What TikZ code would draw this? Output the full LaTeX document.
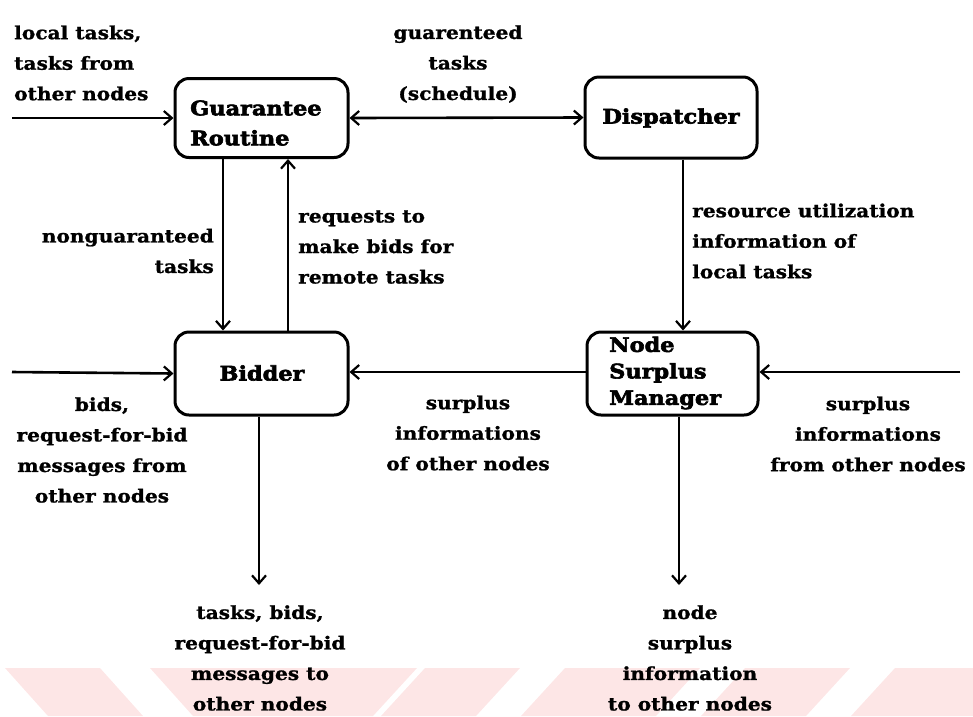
\documentclass[tikz,border=0pt]{standalone}
\usepackage{fontspec}
\usetikzlibrary{arrows.meta}
\newfontfamily\lblfont{DejaVu Serif Bold}[FakeStretch=1.12,FakeBold=1.2]
\newfontfamily\boxfont{DejaVu Serif Bold}[FakeStretch=1.12,FakeBold=3]
\definecolor{wmpink}{RGB}{253,230,230}
\tikzset{
  tipbarb/.tip={Straight Barb[length=8pt,width=14pt,line width=2.2pt]},
  block/.style={draw, line width=3pt, rounded corners=14pt, inner sep=0pt},
  flow/.style={line width=2.6pt, -tipbarb},
  biflow/.style={line width=2.6pt, tipbarb-tipbarb},
  lbl/.style={font=\lblfont\fontsize{18}{30.5}\selectfont, inner sep=0pt},
  boxlbl/.style={font=\boxfont\fontsize{20}{30}\selectfont, inner sep=0pt}
}
\begin{document}
\begin{tikzpicture}[x=1pt,y=-1pt]
\useasboundingbox (0,0) rectangle (973,716);

% faint band of slanted stripes along the bottom edge
\fill[wmpink] (5,668) -- (100,668) -- (143,716) -- (48,716) -- cycle;
\fill[wmpink] (150,668) -- (417,668) -- (373,716) -- (193,716) -- cycle;
\fill[wmpink] (425,668) -- (520,668) -- (476,716) -- (381,716) -- cycle;
\fill[wmpink] (565,668) -- (700,668) -- (656,716) -- (521,716) -- cycle;
\fill[wmpink] (745,668) -- (850,668) -- (806,716) -- (701,716) -- cycle;
\fill[wmpink] (895,668) -- (973,668) -- (973,716) -- (851,716) -- cycle;

% blocks
\node[block, minimum width=173pt, minimum height=79pt] (gr)   at (261.5,118) {};
\node[block, minimum width=172pt, minimum height=81pt] (disp) at (671,117.5) {};
\node[block, minimum width=173pt, minimum height=83pt] (bid)  at (261.5,373.5) {};
\node[block, minimum width=171pt, minimum height=83pt] (nsm)  at (672.5,373.5) {};

% block captions
\node[boxlbl, anchor=west, align=left] at (190,123) {Guarantee\\Routine};
\node[boxlbl] at (671,118) {Dispatcher};
\node[boxlbl] at (262,373) {Bidder};
\node[boxlbl, anchor=west, align=left, font=\boxfont\fontsize{20}{26.5}\selectfont] at (609,373) {Node\\Surplus\\Manager};

% free ends and lane positions
\coordinate (inGR)  at (12,118);
\coordinate (inBid) at (12,372);
\coordinate (inNsm) at (960,372);
\coordinate (laneDown) at (223,0);
\coordinate (laneUp)   at (288,0);
\coordinate (laneRes)  at (683,0);
\coordinate (outBid) at (259,585);
\coordinate (outNsm) at (679,585);

% connectors
\draw[flow] (inGR) -- (gr.west);
\draw[biflow] (gr.east) -- (disp.west);
\draw[flow] (gr.south -| laneDown) -- (bid.north -| laneDown);
\draw[flow] (bid.north -| laneUp) -- (gr.south -| laneUp);
\draw[flow] (disp.south -| laneRes) -- (nsm.north -| laneRes);
\draw[flow] (inBid) -- (bid.west);
\draw[flow] (nsm.west |- inBid) -- (bid.east |- inBid);
\draw[flow] (inNsm) -- (nsm.east |- inNsm);
\draw[flow] (bid.south -| outBid) -- (outBid);
\draw[flow] (nsm.south -| outNsm) -- (outNsm);

% flow labels
\node[lbl, anchor=west, align=left] at (14,63) {local tasks,\\tasks from\\other nodes};
\node[lbl, align=center] at (458,64) {guarenteed\\tasks\\(schedule)};
\node[lbl, anchor=east, align=right] at (214,251) {nonguaranteed\\tasks};
\node[lbl, anchor=west, align=left] at (298,247) {requests to\\make bids for\\remote tasks};
\node[lbl, anchor=west, align=left] at (692,241) {resource utilization\\information of\\local tasks};
\node[lbl, align=center] at (102,450) {bids,\\request-for-bid\\messages from\\other nodes};
\node[lbl, align=center] at (468,433) {surplus\\informations\\of other nodes};
\node[lbl, align=center] at (868,434) {surplus\\informations\\from other nodes};
\node[lbl, align=center] at (260,658) {tasks, bids,\\request-for-bid\\messages to\\other nodes};
\node[lbl, align=center] at (690,658) {node\\surplus\\information\\to other nodes};
\end{tikzpicture}
\end{document}
